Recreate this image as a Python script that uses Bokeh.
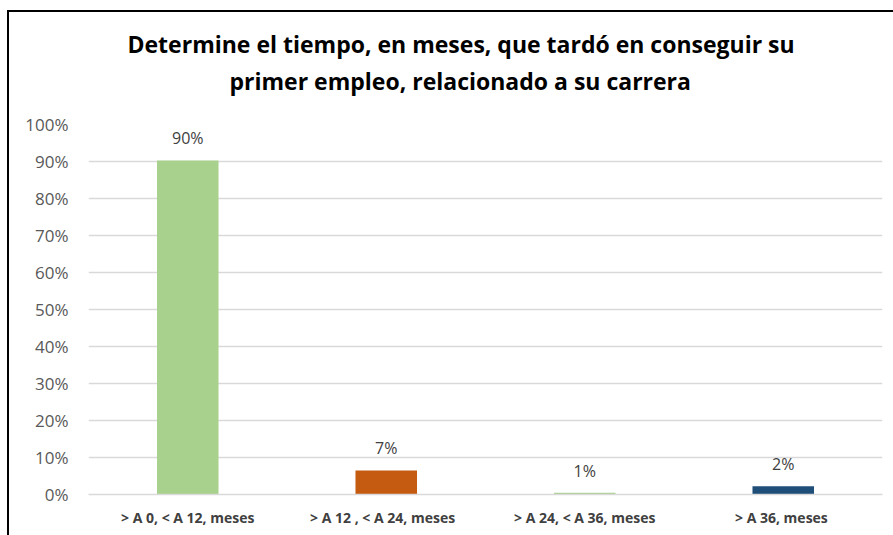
from bokeh.plotting import figure
from bokeh.models import Title, NumeralTickFormatter, FixedTicker
from bokeh.core.properties import value
from bokeh.embed import file_html
from bokeh.resources import INLINE

categories = ["> A 0, < A 12, meses", "> A 12 , <  A 24,  meses",
              "> A 24, < A 36, meses", "> A  36, meses"]
values = [0.903, 0.065, 0.005, 0.022]
labels = ["90%", "7%", "1%", "2%"]
colors = ["#A9D18E", "#C55A11", "#A9D18E", "#1F4E79"]
y_ticks = [0, 0.1, 0.2, 0.3, 0.4, 0.5, 0.6, 0.7, 0.8, 0.9, 1.0]
title_lines = ["Determine el tiempo,  en meses,  que tardó en conseguir su",
               "primer empleo, relacionado  a su carrera"]

FONT = "Open Sans"
p = figure(x_range=categories, y_range=(0, 1), width=886, height=525,
           output_backend="svg", toolbar_location=None,
           min_border_left=79, min_border_right=13,
           min_border_top=112, min_border_bottom=43)
p.styles = {"border-left": "2px solid black", "border-top": "2px solid black",
            "margin-left": "7px", "margin-top": "10px"}
p.title = None

p.vbar(x=categories, top=values, width=0.31, color=colors, line_color=None)
p.text(x=categories, y=values, text=labels, text_align="center",
       text_baseline="alphabetic", y_offset=-22,
       text_font=value(FONT), text_font_size="16px", text_color="#404040")

# chart title: second line nearest the frame, first line stacked above it
t2 = Title(text=title_lines[1], align="left", offset=141, standoff=55,
           text_font=FONT, text_font_size="23px", text_font_style="bold",
           text_color="#000000")
t1 = Title(text=title_lines[0], align="left", offset=39, standoff=-49,
           text_font=FONT, text_font_size="23px", text_font_style="bold",
           text_color="#000000")
p.add_layout(t2, "above")
p.add_layout(t1, "above")

p.outline_line_color = None
p.xgrid.grid_line_color = None
p.ygrid.grid_line_color = "#D9D9D9"
p.ygrid.grid_line_width = 1.5
p.yaxis.ticker = FixedTicker(ticks=y_ticks)
p.yaxis.formatter = NumeralTickFormatter(format="0%")
p.yaxis.axis_line_color = None
p.yaxis.major_tick_line_color = None
p.yaxis.minor_tick_line_color = None
p.yaxis.major_label_standoff = 14
p.yaxis.major_label_text_font = FONT
p.yaxis.major_label_text_font_size = "17px"
p.yaxis.major_label_text_color = "#595959"

p.xaxis.axis_line_color = "#D9D9D9"
p.xaxis.axis_line_width = 1.5
p.xaxis.major_tick_line_color = None
p.xaxis.minor_tick_line_color = None
p.xaxis.major_label_standoff = 7
p.xaxis.major_label_text_font = FONT
p.xaxis.major_label_text_font_size = "14px"
p.xaxis.major_label_text_font_style = "bold"
p.xaxis.major_label_text_color = "#404040"

open("out.html", "w").write(file_html(p, INLINE))
